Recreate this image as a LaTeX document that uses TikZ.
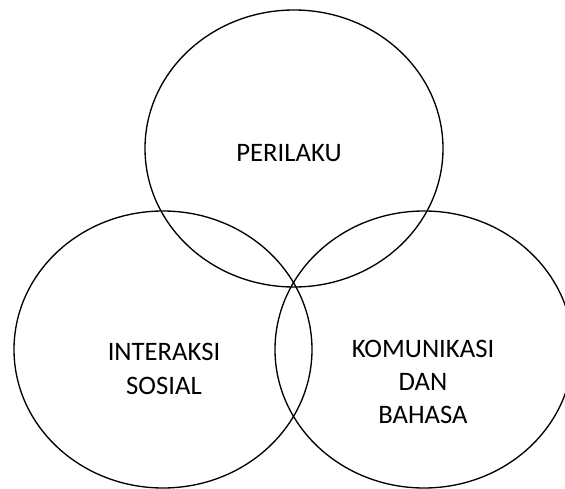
\documentclass[tikz,border=0pt]{standalone}
\usepackage{fontspec}
\setmainfont{Carlito}
\usetikzlibrary{shapes.geometric}

\begin{document}
\begin{tikzpicture}[
    x=0.75pt, y=-0.75pt,
    ring/.style={draw, ellipse, line width=1pt, inner sep=0pt, minimum width=223.5pt, minimum height=207.75pt},
    label/.style={align=center, font=\fontsize{20}{25}\selectfont}
]
\useasboundingbox (0,0) rectangle (565,489);

% Three circles
\node[ring] (perilaku) at (294, 148.5) {};
\node[ring] (interaksi) at (163, 349.5) {};
\node[ring] (komunikasi) at (424, 349.5) {};

% Labels
\node[label] (perilakutext) at (289, 153) {PERILAKU};
\node[label] (interaksitext) at (164, 369) {INTERAKSI\\SOSIAL};
\node[label] (komunikasitext) at (423, 382) {KOMUNIKASI\\DAN\\BAHASA};

\end{tikzpicture}
\end{document}
